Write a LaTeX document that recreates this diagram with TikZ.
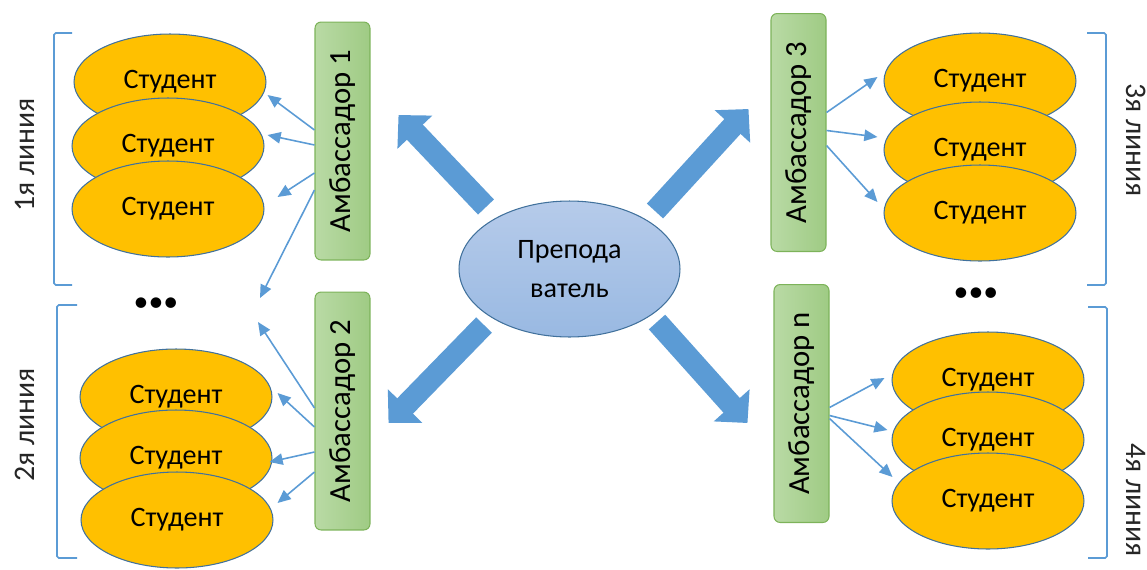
\documentclass[tikz,border=0pt]{standalone}
\usepackage{fontspec}
\setmainfont{Carlito}
\usetikzlibrary{shapes.geometric,arrows.meta}

\definecolor{gold}{HTML}{FFC000}
\definecolor{edgeblue}{HTML}{41719C}
\definecolor{arrowblue}{HTML}{5B9BD5}
\definecolor{ambleft}{HTML}{B9DAA5}
\definecolor{ambright}{HTML}{9FCB84}
\definecolor{ambedge}{HTML}{7DB35A}
\definecolor{teachtop}{HTML}{B6CBEA}
\definecolor{teachbot}{HTML}{99B9E2}
\definecolor{labelgray}{HTML}{262626}

\begin{document}
\begin{tikzpicture}[x=0.02cm,y=-0.02cm,
  student/.style={ellipse,draw=edgeblue,line width=0.6pt,fill=gold,minimum width=3.84cm,minimum height=1.92cm,inner sep=0pt,font=\fontsize{16}{18}\selectfont},
  ambassador/.style={rectangle,rounded corners=3.5pt,draw=ambedge,line width=0.6pt,left color=ambleft,right color=ambright,minimum width=1.1cm,minimum height=4.76cm,inner sep=0pt,font=\fontsize{17.5}{20}\selectfont},
  thinarrow/.style={draw=arrowblue,line width=0.9pt,-{Triangle[length=7.5pt,width=6.5pt]}},
  bigarrow/.style={draw=arrowblue,line width=12.5pt,-{Triangle[length=13.5pt,width=26.6pt]}},
  bracket/.style={draw=arrowblue,line width=0.9pt,rounded corners=1pt},
  linelabel/.style={text=labelgray,inner sep=0pt,font=\fontsize{17}{20}\selectfont}]
\useasboundingbox (0,0) rectangle (1147,569);
% brackets
\draw[bracket] (72,33)--(54,33)--(54,285)--(72,285);
\draw[bracket] (77,305)--(57,305)--(57,558)--(77,558);
\draw[bracket] (1087,33)--(1106,33)--(1106,285)--(1087,285);
\draw[bracket] (1088,307)--(1107,307)--(1107,558)--(1088,558);
\node[linelabel,rotate=90] (l1) at (25,155) {1я линия};
\node[linelabel,rotate=90] (l2) at (25,425) {2я линия};
\node[linelabel,rotate=-90] (l3) at (1136,140) {3я линия};
\node[linelabel,rotate=-90] (l4) at (1136,500) {4я линия};
\node[font=\fontsize{17}{20}\selectfont] (dotsL) at (156,305) {•••};
\node[font=\fontsize{17}{20}\selectfont] (dotsR) at (976,295) {•••};
% students
\node[student] (s11) at (170,82) {Студент};
\node[student] (s12) at (168,146) {Студент};
\node[student] (s13) at (168,209) {Студент};
\node[student] (s21) at (176,397) {Студент};
\node[student] (s22) at (176,458) {Студент};
\node[student] (s23) at (177,520) {Студент};
\node[student] (s31) at (980,81) {Студент};
\node[student] (s32) at (980,150) {Студент};
\node[student] (s33) at (980,213) {Студент};
\node[student] (sn1) at (988,380) {Студент};
\node[student] (sn2) at (988,440) {Студент};
\node[student] (sn3) at (988,501) {Студент};
% ambassadors
\node[ambassador] (amb1) at (342.5,141) {\rotatebox{90}{Амбассадор 1}};
\node[ambassador] (amb2) at (342.5,411) {\rotatebox{90}{Амбассадор 2}};
\node[ambassador] (amb3) at (798.5,132.5) {\rotatebox{90}{Амбассадор 3}};
\node[ambassador] (ambn) at (801.5,403.5) {\rotatebox{90}{Амбассадор n}};
\node[ellipse,draw=edgeblue,line width=0.6pt,top color=teachtop,bottom color=teachbot,minimum width=4.42cm,minimum height=2.72cm,align=center,font=\fontsize{16}{22.5}\selectfont] (teacher) at (569.5,269) {Препода\\ватель};
% big arrows
\draw[bigarrow] ([shift={(-83.5,-62)}]teacher.center) -- ([shift={(28,-26)}]amb1.east);
\draw[bigarrow] ([shift={(85.5,-58)}]teacher.center) -- ([shift={(-22,-23.5)}]amb3.west);
\draw[bigarrow] ([shift={(-85.5,56)}]teacher.center) -- ([shift={(18,12)}]amb2.east);
\draw[bigarrow] ([shift={(87.5,53)}]teacher.center) -- ([shift={(-26,19.5)}]ambn.west);
% thin arrows
\coordinate (gap1) at (260,298);
\coordinate (gap2) at (258,322);
\draw[thinarrow] ([shift={(0,-11)}]amb1.west) -- ([shift={(1,13)}]s11.east);
\draw[thinarrow] ([shift={(0,4)}]amb1.west) -- ([shift={(3,-11)}]s12.east);
\draw[thinarrow] ([shift={(0,32)}]amb1.west) -- ([shift={(13,-12)}]s13.east);
\draw[thinarrow] ([shift={(0,49)}]amb1.west) -- (gap1);
\draw[thinarrow] ([shift={(0,-3)}]amb2.west) -- (gap2);
\draw[thinarrow] ([shift={(0,16)}]amb2.west) -- ([shift={(5,-4)}]s21.east);
\draw[thinarrow] ([shift={(0,41)}]amb2.west) -- ([shift={(-3,4)}]s22.east);
\draw[thinarrow] ([shift={(0,61)}]amb2.west) -- ([shift={(4,-17)}]s23.east);
\draw[thinarrow] ([shift={(0,-20)}]amb3.east) -- ([shift={(-6,-4)}]s31.west);
\draw[thinarrow] ([shift={(0,-2)}]amb3.east) -- ([shift={(-6,-13)}]s32.west);
\draw[thinarrow] ([shift={(0,13)}]amb3.east) -- ([shift={(-6,-11)}]s33.west);
\draw[thinarrow] ([shift={(0,4)}]ambn.east) -- ([shift={(-7,-2)}]sn1.west);
\draw[thinarrow] ([shift={(0,12)}]ambn.east) -- ([shift={(-4,-10)}]sn2.west);
\draw[thinarrow] ([shift={(0,15)}]ambn.east) -- ([shift={(1,-24)}]sn3.west);
\end{tikzpicture}
\end{document}
